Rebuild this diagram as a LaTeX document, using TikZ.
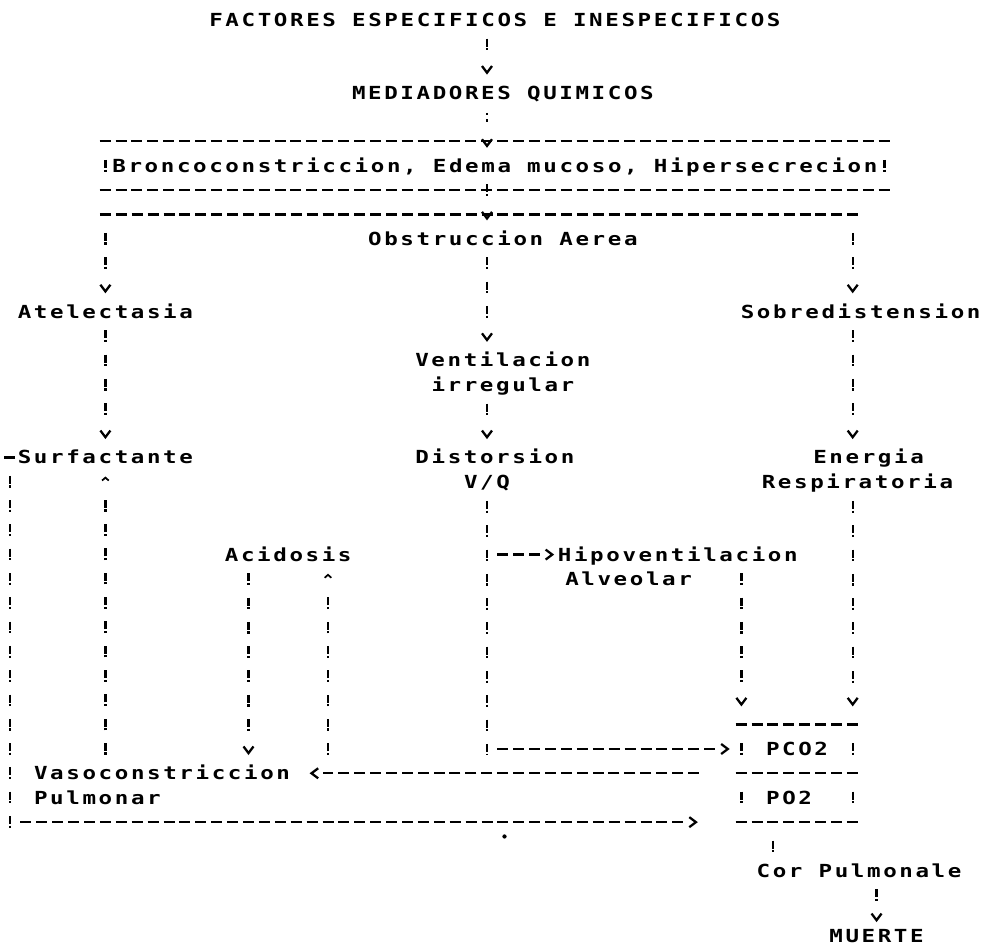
\documentclass[tikz,border=0pt]{standalone}
\usepackage{fontspec}
\usetikzlibrary{arrows.meta,positioning,decorations.markings}
\newfontfamily\dotfont{DejaVu Sans Mono}[FakeStretch=1.25,LetterSpace=14.5]
\definecolor{ink}{RGB}{0,0,0}

\begin{document}
\begin{tikzpicture}[x=11.925pt,y=-18.225pt,
  lbl/.style={inner sep=0pt,text=ink,font=\dotfont\bfseries\fontsize{13.5pt}{18pt}\selectfont,
    minimum height=18.225pt,text height=9.8pt,text depth=0pt},
  hl/.style={ink,line width=1.7pt,dash pattern=on 8.25pt off 3.675pt,dash phase=10.085pt},
  vl/.style={ink,line width=1.7pt,dash pattern=on 6pt off 1.2pt on 1.6pt off 9.425pt,dash phase=13.5125pt},
  vu/.style={ink,line width=1.7pt,dash pattern=on 1.6pt off 1.2pt on 6pt off 9.425pt,dash phase=13.5125pt},
  colon/.style={ink,line width=1.7pt,dash pattern=on 2pt off 3pt on 2pt off 11.225pt,dash phase=12.6125pt},
  bar/.style={ink,line width=1.7pt,dash pattern=on 6pt off 1.2pt on 1.6pt off 20pt},
  tov/.style={shorten >=#1+10pt,postaction={decorate,decoration={markings,
    mark=at position -#1 with {\arrow[line width=1.7pt]{Straight Barb[length=5pt,width=7.5pt]}}}}},
  tou/.style={shorten >=#1+10pt,postaction={decorate,decoration={markings,
    mark=at position -#1 with {\arrow[line width=1.3pt]{Straight Barb[length=2.2pt,width=5pt]}}}}}]
  \useasboundingbox (-0.629,-0.823) rectangle (62.013,38.354);
  \foreach \k in {0,6,15,20,30,46,48,53}{\coordinate (k\k) at (\k,0);}
  \coordinate (k545) at (54.5,0);

  \node[lbl] (fact) at (30.5,0) {FACTORES ESPECIFICOS E INESPECIFICOS};
  \node[lbl] (med) at (31,3) {MEDIADORES QUIMICOS};
  \node[lbl,minimum width=596.25pt,minimum height=36.45pt] (bron) at (30.5,6)
    {Broncoconstriccion, Edema mucoso, Hipersecrecion};
  \node[lbl] (obs) at (31,9) {Obstruccion Aerea};
  \node[lbl] (atel) at (6,12) {Atelectasia};
  \node[lbl] (sobre) at (53.5,12) {Sobredistension};
  \node[lbl] (vent) at (31,14) {Ventilacion};
  \node[lbl,below=0pt of vent] (irreg) {irregular};
  \node[lbl] (surf) at (6,18) {Surfactante};
  \node[lbl] (dist) at (30.5,18) {Distorsion};
  \node[lbl,below=0pt of dist,xshift=-5.96pt] (vq) {V/Q};
  \node[lbl] (ener) at (54,18) {Energia};
  \node[lbl,below=0pt of ener,xshift=-8.35pt] (resp) {Respiratoria};
  \node[lbl] (acid) at (17.5,22) {Acidosis};
  \node[lbl] (hipo) at (42,22) {Hipoventilacion};
  \node[lbl,anchor=north west] (alv) at ([xshift=5.5pt]hipo.south west) {Alveolar};
  \node[lbl,minimum width=95.4pt,minimum height=72.9pt] (gas) at (49.5,31) {};
  \node[lbl] (pco2) at (49.5,30) {PCO2};
  \node[lbl] (po2) at (49,32) {PO2};
  \node[lbl,anchor=west] (vaso) at (1.5,31) {Vasoconstriccion};
  \node[lbl,anchor=north west] (pulm) at (vaso.south west) {Pulmonar};
  \node[lbl] (cor) at (53.4,35) {Cor Pulmonale};
  \node[lbl] (muerte) at (54.5,37.7) {MUERTE};

  % boxes
  \draw[hl] (bron.north west) -- (bron.north east);
  \draw[hl] (bron.south west) -- (bron.south east);
  \foreach \x in {6,55}{\draw[bar] (\x,5.759) -- (\x,6.241);}
  \foreach \a/\b in {north west/north east,west/east,south west/south east}{\draw[hl] (gas.\a) -- (gas.\b);}
  \foreach \x in {46,53}\foreach \y in {30,32}{\draw[bar] (\x,\y-0.241) -- (\x,\y+0.241);}
  \coordinate (busL) at (5.5,8);
  \coordinate (busR) at (53.5,8);
  \draw[hl] (busL) -- (busR);

  \draw[vl,tov=4.4pt] (fact.south -| k30) -- (med.north -| k30);
  \draw[colon,tov=13.5pt] (med.south -| k30) -- (bron -| k30);
  \draw[vl,tov=4.4pt,shorten <=-9.1125pt] (bron.south -| k30) -- (obs.north -| k30);
  \draw[vl,tov=4.4pt,shorten <=9.1125pt] (busL -| k6) -- (atel.north);
  \draw[vl,tov=4.4pt,shorten <=9.1125pt] (busR -| k53) -- (sobre.north -| k53);
  \draw[vl,tov=4.4pt] (obs.south -| k30) -- (vent.north -| k30);
  \draw[vl,tov=4.4pt] (atel.south) -- (surf.north);
  \draw[vl,tov=4.4pt] (irreg.south -| k30) -- (dist.north -| k30);
  \draw[vl,tov=4.4pt] (sobre.south -| k53) -- (ener.north -| k53);
  \draw[vl,shorten >=-4.4pt] (vq.south -| k30) -- (pco2 -| k30);
  \draw[hl,tov=2.6pt,shorten <=5.96pt] (hipo -| k30) -- (hipo.west);
  \draw[hl,tov=2.6pt,shorten <=5.96pt] (pco2 -| k30) -- (pco2 -| gas.west);
  \draw[vl,tov=13.5pt] (resp.south -| k53) -- (gas.north -| k53);
  \draw[vl,tov=13.5pt] (hipo.south -| k46) -- (gas.north -| k46);
  % back to the left side
  \draw[hl,tov=14.5pt,shorten <=23.85pt] (gas.west) -- (vaso.east);
  \draw[vu,tou=5pt,shorten <=9.1125pt] (gas.west -| k20) -- (acid.south -| k20);
  \draw[vl,tov=4.4pt] (acid.south -| k15) -- (vaso.north -| k15);
  \draw[vu,tou=5pt] (vaso.north -| k6) -- (surf.south -| k6);
  \draw[hl,shorten >=-4.2pt] (surf.west) -- (surf.west -| k0);
  \draw[vl,shorten <=9.1125pt,shorten >=-4.4pt] (surf.west -| k0) -- (gas.south -| k0);
  \draw[hl,tov=26.5pt,shorten <=5.96pt] (gas.south -| k0) -- (gas.south west);
  \draw[vl,shorten <=9.1125pt] (gas.south -| k48) -- (cor.north -| k48);
  \draw[vl,tov=10.5pt] (cor.south -| k545) -- (muerte -| k545);
  \fill[ink] (31.1,33.6) circle (1.6pt);
\end{tikzpicture}
\end{document}
